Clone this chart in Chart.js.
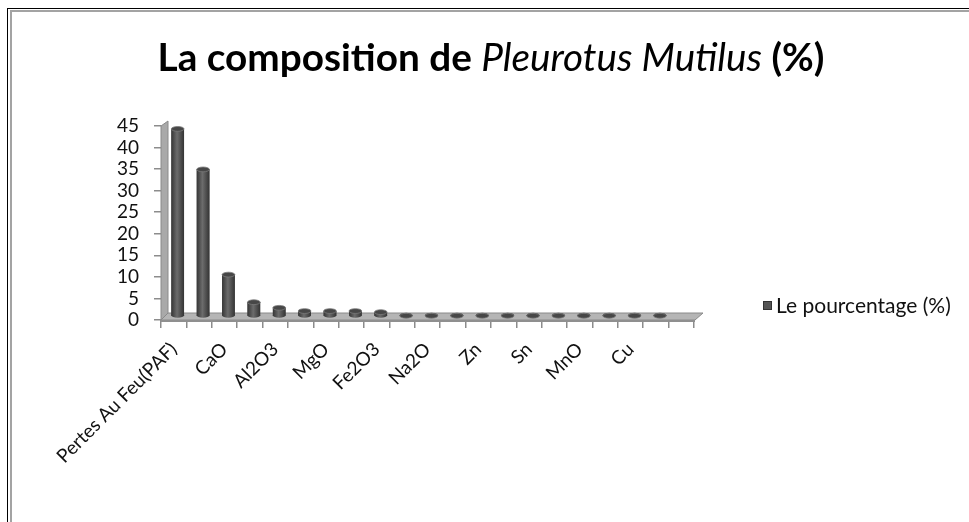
<!DOCTYPE html>
<html>
<head>
<meta charset="utf-8">
<script src="https://cdn.jsdelivr.net/npm/chart.js@4.4.1/dist/chart.umd.min.js"></script>
<style>
  html, body { margin: 0; padding: 0; background: #fff; }
  #wrap { width: 969px; height: 522px; }
</style>
</head>
<body>
<div id="wrap"><canvas id="chart" width="969" height="522"></canvas></div>
<script>
// categories (only every other one is labelled in the original)
const categories = [
  'Pertes Au Feu(PAF)', 'SiO2', 'CaO', 'SO3', 'Al2O3', 'P2O5', 'MgO', 'K2O',
  'Fe2O3', 'Cl', 'Na2O', 'TiO2', 'Zn', 'Sr', 'Sn', 'Cr', 'MnO', 'Ni', 'Cu', 'Pb', ''
];
// Le pourcentage (%)
const values = [
  43.4, 34, 9.6, 3.2, 1.9, 1.15, 1.15, 1.15, 0.9, 0.05, 0.05, 0.05,
  0.05, 0.05, 0.05, 0.05, 0.05, 0.05, 0.05, 0.05, null
];
const yTicks = [0, 5, 10, 15, 20, 25, 30, 35, 40, 45];
const seriesName = 'Le pourcentage (%)';
const titleParts = [
  { text: 'La composition de ', style: 'bold' },
  { text: 'Pleurotus Mutilus', style: 'italic' },
  { text: ' (%)', style: 'bold' }
];

const FONT = 'Lato, "Open Sans", sans-serif';
const BAR = '#505050';
const DEPTH = { x: 4, y: -4 }; // bars stand mid-depth on the 3d floor

// frame, floor/wall, cylinder caps, title, legend (Excel look)
const excelLook = {
  id: 'excelLook',
  beforeDraw(chart) {
    const c = chart.ctx;
    c.save();
    c.fillStyle = '#fff';
    c.fillRect(0, 0, chart.width, chart.height);
    // outer frame (only top/left visible)
    c.fillStyle = '#000';
    c.fillRect(7, 8, chart.width - 7, 1);
    c.fillRect(7, 8, 1, chart.height - 8);
    c.fillStyle = '#a3a3a3';
    c.fillRect(10, 10, chart.width - 10, 2);
    c.fillRect(10, 10, 2, chart.height - 10);
    c.restore();
  },
  beforeDatasetsDraw(chart) {
    const c = chart.ctx;
    const { left, right } = chart.chartArea;
    const y = chart.scales.y;
    const y0 = y.getPixelForValue(0);
    const yTop = y.getPixelForValue(yTicks[yTicks.length - 1]);
    c.save();
    // back wall
    c.fillStyle = '#a9a9a9';
    c.strokeStyle = '#8a8a8a';
    c.lineWidth = 1;
    c.beginPath();
    c.moveTo(left, y0);
    c.lineTo(left, yTop);
    c.lineTo(left + 7, yTop - 5);
    c.lineTo(left + 7, y0 - 7);
    c.closePath();
    c.fill();
    c.stroke();
    // floor
    c.fillStyle = '#b5b5b5';
    c.beginPath();
    c.moveTo(left, y0);
    c.lineTo(left + 7, y0 - 7);
    c.lineTo(right + 9, y0 - 7);
    c.lineTo(right + 1, y0);
    c.closePath();
    c.fill();
    c.stroke();
    c.fillStyle = '#8f8f8f';
    c.fillRect(left, y0, right - left + 1, 2);
    c.restore();
    // shift the bars back onto the floor, undone in afterDatasetsDraw
    c.save();
    c.translate(DEPTH.x, DEPTH.y);
  },
  afterDatasetsDraw(chart) {
    const c = chart.ctx;
    const meta = chart.getDatasetMeta(0);
    meta.data.forEach((bar, i) => {
      if (values[i] === null) return;
      const { x, y, base, width } = bar.getProps(['x', 'y', 'base', 'width'], true);
      const rx = width / 2, ry = 2.4;
      const g = c.createLinearGradient(x - rx, 0, x + rx, 0);
      g.addColorStop(0, '#363636');
      g.addColorStop(0.45, '#6c6c6c');
      g.addColorStop(1, '#343434');
      c.fillStyle = g;
      c.fillRect(x - rx, y, width, base - y);
      c.beginPath();
      c.ellipse(x, base, rx, ry, 0, 0, Math.PI * 2);
      c.fill();
      c.beginPath();
      c.ellipse(x, y, rx, ry, 0, 0, Math.PI * 2);
      c.fillStyle = '#474747';
      c.fill();
      c.strokeStyle = '#7a7a7a';
      c.lineWidth = 0.8;
      c.stroke();
    });
    c.restore();
  },
  afterDraw(chart) {
    const c = chart.ctx;
    c.save();
    // title, mixed bold / italic, sized to the original width
    const base = 32;
    const fontFor = (style, size) => (style === 'bold' ? 'bold ' : 'italic ') + size + 'px ' + FONT;
    let w = 0;
    titleParts.forEach(p => { c.font = fontFor(p.style, base); w += c.measureText(p.text).width; });
    const size = base * 667 / w;
    let total = 0;
    titleParts.forEach(p => { c.font = fontFor(p.style, size); total += c.measureText(p.text).width; });
    let tx = 491 - total / 2;
    c.fillStyle = '#000';
    c.textBaseline = 'alphabetic';
    c.textAlign = 'left';
    titleParts.forEach(p => {
      c.font = fontFor(p.style, size);
      c.fillText(p.text, tx, 71);
      tx += c.measureText(p.text).width;
    });
    // legend
    c.fillStyle = '#555';
    c.fillRect(763, 301, 9, 9);
    c.strokeStyle = '#333';
    c.lineWidth = 1;
    c.strokeRect(763.5, 301.5, 8, 8);
    c.fillStyle = '#111';
    c.font = '21px ' + FONT;
    c.fillText(seriesName, 776, 313);
    c.restore();
  }
};

new Chart(document.getElementById('chart').getContext('2d'), {
  type: 'bar',
  data: {
    labels: categories,
    datasets: [{
      label: seriesName,
      data: values,
      backgroundColor: BAR,
      borderWidth: 0,
      barPercentage: 0.5,
      categoryPercentage: 1
    }]
  },
  options: {
    responsive: false,
    animation: false,
    devicePixelRatio: 1,
    layout: { padding: { top: 126, right: 275, left: 0, bottom: 0 } },
    scales: {
      x: {
        grid: { offset: true, drawOnChartArea: false, drawTicks: true, tickLength: 8, color: '#8c8c8c', lineWidth: 1.5 },
        border: { display: false },
        ticks: {
          autoSkip: false,
          minRotation: 45,
          maxRotation: 45,
          padding: 10,
          color: '#111',
          font: { family: FONT, size: 19 },
          callback: (v, i) => (i % 2 === 0 ? categories[i] : '')
        },
        afterFit: s => { s.height = 202; }
      },
      y: {
        min: 0,
        max: 45,
        afterBuildTicks: s => { s.ticks = yTicks.map(v => ({ value: v })); },
        grid: { drawOnChartArea: false, tickLength: 7, color: '#8c8c8c', lineWidth: 1.5 },
        border: { display: false },
        ticks: { autoSkip: false, padding: 15, color: '#111', font: { family: FONT, size: 19 } },
        afterFit: s => { s.width = 161; }
      }
    },
    plugins: {
      legend: { display: false },
      tooltip: { enabled: false },
      title: { display: false }
    }
  },
  plugins: [excelLook]
});
</script>
</body>
</html>
